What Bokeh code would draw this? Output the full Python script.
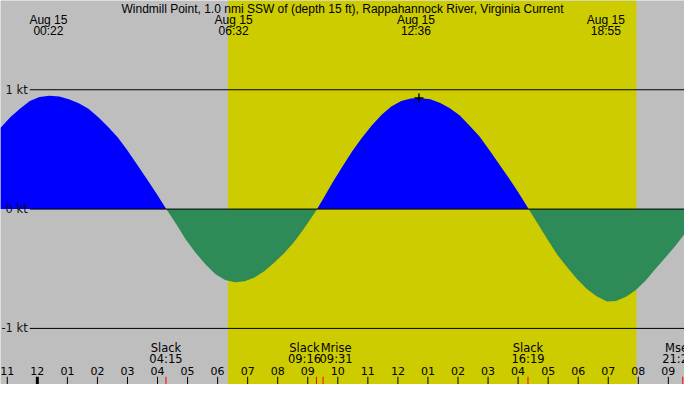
# Windmill Point の潮流グラフ（8月15日）をbokehで再現する
# 横軸は8月15日0時からの時間 [h]、縦軸は流速 [kt]

import numpy as np
from bokeh.core.properties import value
from bokeh.embed import file_html
from bokeh.models import BoxAnnotation, ColumnDataSource, Range1d
from bokeh.plotting import figure
from bokeh.resources import INLINE

# %%
# データ
title = "Windmill Point, 1.0 nmi SSW of (depth 15 ft), Rappahannock River, Virginia Current"

t_hours = [-1.23, -0.90, -0.58, -0.25, 0.07, 0.40, 0.73, 1.05, 1.38, 1.70,
           2.03, 2.35, 2.68, 3.00, 3.33, 3.65, 3.98, 4.29, 4.63, 4.95,
           5.28, 5.60, 5.93, 6.25, 6.58, 6.90, 7.23, 7.55, 7.88, 8.21,
           8.53, 8.86, 9.18, 9.31, 9.51, 9.83, 10.16, 10.48, 10.81, 11.13,
           11.46, 11.78, 12.11, 12.43, 12.70, 13.08, 13.41, 13.73, 14.06, 14.38,
           14.71, 15.03, 15.36, 15.69, 16.01, 16.35, 16.66, 16.99, 17.31, 17.64,
           17.96, 18.29, 18.61, 18.96, 19.26, 19.59, 19.91, 20.24, 20.56, 20.89,
           21.21, 21.54]
speed_kt = [0.68, 0.77, 0.84, 0.905, 0.94, 0.95, 0.943, 0.92, 0.887, 0.84,
            0.77, 0.69, 0.60, 0.49, 0.37, 0.25, 0.125, 0.0, -0.13, -0.26,
            -0.37, -0.465, -0.546, -0.594, -0.613, -0.605, -0.573, -0.52, -0.45, -0.37,
            -0.28, -0.17, -0.05, 0.0, 0.085, 0.225, 0.36, 0.485, 0.60, 0.70,
            0.79, 0.86, 0.905, 0.927, 0.93, 0.92, 0.89, 0.845, 0.785, 0.70,
            0.61, 0.50, 0.38, 0.26, 0.14, 0.0, -0.125, -0.26, -0.385, -0.49,
            -0.585, -0.67, -0.73, -0.775, -0.77, -0.735, -0.68, -0.60, -0.505, -0.41,
            -0.315, -0.21]

# 最大流速の時刻（上のラベル）
peak_times = [0.37, 6.53, 12.60, 18.92]
peak_dates = ["Aug 15", "Aug 15", "Aug 15", "Aug 15"]
peak_labels = ["00:22", "06:32", "12:36", "18:55"]

# 印のついた最大流速
mark_time, mark_speed = 12.70, 0.93

# 転流・月の出入り（下のラベル）
event_times = [4.28, 9.29, 9.51, 16.33, 21.48]
event_names = ["Slack", "Slack", "Mrise", "Slack", "Mset"]
event_labels = ["04:15", "09:16", "09:31", "16:19", "21:28"]
event_shift = [0, -12, 13, 0, -4]  # 重なり回避のずらし [px]

# 時刻の目盛り
hour_ticks = list(range(-1, 22))
hour_labels = ["11", "12", "01", "02", "03", "04", "05", "06", "07", "08", "09", "10",
               "11", "12", "01", "02", "03", "04", "05", "06", "07", "08", "09"]

kt_levels = [1, 0, -1]
kt_labels = ["1 kt", "0 kt", "-1 kt"]

# 日の出・日の入り
sunrise, sunset = 6.34, 19.94

# %%
x_start, x_end = -1.226, 21.538
y_bottom, y_top = -1.470, 1.748

row_title, row_date, row_time = 1.675, 1.587, 1.492
row_event, row_event_time, row_hour = -1.160, -1.257, -1.357
tick_top = -1.405

speed = np.array(speed_kt)
source = ColumnDataSource(data=dict(t=t_hours, pos=np.maximum(speed, 0), neg=np.minimum(speed, 0)))

p = figure(width=684, height=384, title=None,
           x_range=Range1d(start=x_start, end=x_end), y_range=Range1d(start=y_bottom, end=y_top),
           x_axis_type=None, y_axis_type=None, min_border=0,
           output_backend="svg", toolbar_location=None)
p.background_fill_color = "#BEBEBE"
p.border_fill_color = "#BEBEBE"
p.outline_line_color = None
p.grid.visible = False

# 昼間（黄色）
p.add_layout(BoxAnnotation(left=sunrise, right=sunset, fill_color="#CCCC00", fill_alpha=1,
                           line_color=None, level="underlay"))

# 上げ潮は青、下げ潮は緑
p.varea(x="t", y1=0, y2="pos", source=source, fill_color="#0000FF")
p.varea(x="t", y1=0, y2="neg", source=source, fill_color="#2E8B57")

# kt の線とラベル
p.segment(x0=-0.25, y0=kt_levels, x1=x_end, y1=kt_levels, line_color="black", line_width=1)
p.text(x=[-0.32] * 3, y=kt_levels, text=kt_labels, text_font=value("DejaVu Sans"),
       text_font_size="11.5px", text_align="right", text_baseline="middle", text_color="#111111")

# 最大流速の印
p.scatter(x=[mark_time], y=[mark_speed], marker="cross", size=9, line_color="black", line_width=1.5)

# タイトルと上のラベル
font_top = value("Liberation Sans")
p.text(x=[(x_start + x_end) / 2], y=[row_title], text=[title], text_font=font_top,
       text_font_size="12px", text_align="center", text_baseline="middle", text_color="black")
p.text(x=peak_times, y=[row_date] * 4, text=peak_dates, text_font=font_top,
       text_font_size="12px", text_align="center", text_baseline="middle", text_color="black")
p.text(x=peak_times, y=[row_time] * 4, text=peak_labels, text_font=font_top,
       text_font_size="12px", text_align="center", text_baseline="middle", text_color="black")

# 下のラベル
font_bottom = value("DejaVu Sans")
ev_source = ColumnDataSource(data=dict(x=event_times, name=event_names, label=event_labels,
                                       dx=event_shift))
p.text(x="x", y=row_event, text="name", x_offset="dx", source=ev_source, text_font=font_bottom,
       text_font_size="11.5px", text_align="center", text_baseline="middle", text_color="black")
p.text(x="x", y=row_event_time, text="label", x_offset="dx", source=ev_source, text_font=font_bottom,
       text_font_size="11.5px", text_align="center", text_baseline="middle", text_color="black")
p.text(x=hour_ticks, y=[row_hour] * len(hour_ticks), text=hour_labels, text_font=font_bottom,
       text_font_size="11px", text_align="center", text_baseline="middle", text_color="black")

# 目盛り（0時は太く）、イベントは赤
p.segment(x0=hour_ticks, y0=tick_top, x1=hour_ticks, y1=y_bottom, line_color="black",
          line_width=[3 if h == 0 else 1 for h in hour_ticks])
p.segment(x0=event_times, y0=tick_top, x1=event_times, y1=y_bottom, line_color="red", line_width=1)

open("out.html", "w").write(file_html(p, INLINE))
